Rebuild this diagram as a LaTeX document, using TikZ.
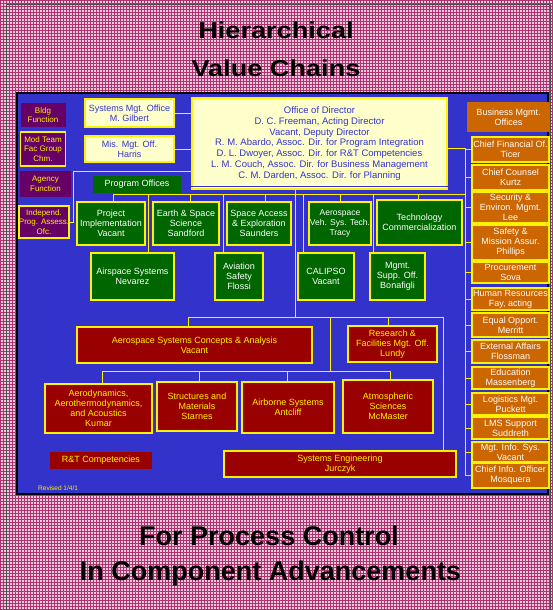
\documentclass[tikz,border=0pt]{standalone}
\usepackage{fontspec}
\setmainfont{Liberation Sans}
\usepackage{graphicx}
\usepackage{tikz}

\definecolor{panelblue}{RGB}{51,51,204}
\definecolor{progreen}{RGB}{0,102,0}
\definecolor{compred}{RGB}{153,0,0}
\definecolor{busorange}{RGB}{204,102,0}
\definecolor{agpurple}{RGB}{102,0,102}
\definecolor{paper}{RGB}{255,255,204}
\definecolor{pinkbg}{RGB}{238,204,222}
\definecolor{pinkdot}{RGB}{176,48,112}

\tikzset{
  box/.style={draw=yellow, line width=1.3pt, inner sep=0pt, align=center,
    font=\fontsize{9}{10}\selectfont},
  greenbox/.style={box, fill=progreen, text=white},
  redbox/.style={box, fill=compred, text=yellow},
  orangebox/.style={box, fill=busorange, text=white, minimum width=77},
  purplebox/.style={box, fill=agpurple, text=yellow, minimum width=45,
    font=\fontsize{8}{9.5}\selectfont},
  paperbox/.style={box, fill=paper, text=panelblue},
  link/.style={yellow, line width=1pt},
  headline/.style={anchor=base, font=\fontsize{27}{27}\selectfont\bfseries}
}

\begin{document}
\begin{tikzpicture}[x=1pt,y=-1pt]

  \useasboundingbox (0,0) rectangle (552,610);

  % background
  \fill[pinkbg] (0,0) rectangle (552,610);
  \draw[pinkdot, line width=0.6pt, xstep=3pt, ystep=3pt] (0,0) grid (552,610);
  \draw[gray!60!black, line width=0.8pt] (6,614) -- (6,4) -- (550,4) -- (550,614);

  % titles
  \node[headline, font=\fontsize{23}{23}\selectfont\bfseries] (title1) at (276,39)
    {\scalebox{1.18}[1]{Hierarchical}};
  \node[headline, font=\fontsize{23}{23}\selectfont\bfseries] (title2) at (276,77)
    {\scalebox{1.18}[1]{Value Chains}};
  \node[headline] (sub1) at (269,545) {For Process Control};
  \node[headline] (sub2) at (270.5,580) {In Component Advancements};

  % panel
  \draw[black, line width=1.5pt, fill=panelblue] (17,93) rectangle (548,494);

  % director and staff
  \node[paperbox, minimum width=255, minimum height=91,
    font=\fontsize{9.5}{10.8}\selectfont] (dir) at (319.5,143.5)
    {Office of Director\\
     D. C. Freeman, Acting Director\\
     Vacant, Deputy Director\\
     R. M. Abardo, Assoc. Dir. for Program Integration\\
     D. L. Dwoyer, Assoc. Dir. for R\&T Competencies\\
     L. M. Couch, Assoc. Dir. for Business Management\\
     C. M. Darden, Assoc. Dir. for Planning};
  \draw[panelblue, line width=0.8pt] ([yshift=3pt]dir.south west) -- ([yshift=3pt]dir.south east);
  \node[paperbox, minimum width=89, minimum height=28] (sysmgt) at (129.5,113)
    {Systems Mgt. Office\\M. Gilbert};
  \node[paperbox, minimum width=89, minimum height=26] (misoff) at (129.5,149)
    {Mis. Mgt. Off.\\Harris};

  % left column
  \node[purplebox, draw=none, minimum height=24] (bldg) at (43,115) {Bldg\\Function};
  \node[purplebox, minimum height=34] (modteam) at (43,149) {Mod Team\\Fac Group\\Chm.};
  \node[purplebox, draw=none, minimum width=51, minimum height=26] (agency) at (45.5,184)
    {Agency\\Function};
  \node[purplebox, minimum height=32] (indep) at (44,222) {Independ.\\Prog. Assess.\\Ofc.};

  % program offices
  \node[greenbox, draw=none, minimum width=88, minimum height=17] (progoff) at (137,184.5)
    {Program Offices};
  \node[greenbox, minimum width=68, minimum height=43] (proj) at (111,223.5)
    {Project\\Implementation\\Vacant};
  \node[greenbox, minimum width=66, minimum height=43] (earth) at (186,223.5)
    {Earth \& Space\\Science\\Sandford};
  \node[greenbox, minimum width=64, minimum height=43] (space) at (259,223.5)
    {Space Access\\\& Exploration\\Saunders};
  \node[greenbox, minimum width=62, minimum height=43,
    font=\fontsize{8.5}{10}\selectfont] (avst) at (340,223.5)
    {Aerospace\\Veh. Sys. Tech.\\Tracy};
  \node[greenbox, minimum width=85, minimum height=45] (techcom) at (419.5,222.5)
    {Technology\\Commercialization};
  \node[greenbox, minimum width=83, minimum height=47] (airsys) at (132.5,276.5)
    {Airspace Systems\\Nevarez};
  \node[greenbox, minimum width=48, minimum height=47] (avsafe) at (239,276.5)
    {Aviation\\Safety\\Flossi};
  \node[greenbox, minimum width=56, minimum height=47] (calipso) at (326,276.5)
    {CALIPSO\\Vacant};
  \node[greenbox, minimum width=55, minimum height=47] (mso) at (397.5,276.5)
    {Mgmt.\\Supp. Off.\\Bonafigli};

  % competencies
  \node[redbox, minimum width=235, minimum height=36] (ascan) at (194.5,345)
    {Aerospace Systems Concepts \& Analysis\\Vacant};
  \node[redbox, minimum width=89, minimum height=36] (rfmo) at (392.5,344)
    {Research \&\\Facilities Mgt. Off.\\Lundy};
  \node[redbox, minimum width=107, minimum height=49] (aero) at (98.5,408.5)
    {Aerodynamics,\\Aerothermodynamics,\\and Acoustics\\Kumar};
  \node[redbox, minimum width=80, minimum height=49] (struct) at (197,406.5)
    {Structures and\\Materials\\Starnes};
  \node[redbox, minimum width=92, minimum height=51] (airborne) at (288,407.5)
    {Airborne Systems\\Antcliff};
  \node[redbox, minimum width=90, minimum height=53] (atmos) at (388,406.5)
    {Atmospheric\\Sciences\\McMaster};
  \node[redbox, minimum width=232, minimum height=26] (syseng) at (340,464)
    {Systems Engineering\\Jurczyk};
  \node[redbox, draw=none, minimum width=102, minimum height=17] (rtcomp) at (101,460.5)
    {R\&T Competencies};
  \node[anchor=west, text=yellow, inner sep=0pt, font=\fontsize{6.5}{6.5}\selectfont] (rev)
    at (38,488) {Revised 1/4/1};

  % business offices
  \node[orangebox, draw=none, minimum width=83, minimum height=30] (bmo) at (508.5,117)
    {Business Mgmt.\\Offices};
  \foreach \n/\y/\h/\txt in {
      cfo/149.5/25/{Chief Financial Of.\\Ticer},
      counsel/177.5/25/{Chief Counsel\\Kurtz},
      security/207.5/31/{Security \&\\Environ. Mgmt.\\Lee},
      safety/242.5/35/{Safety \&\\Mission Assur.\\Phillips},
      procure/272.5/21/{Procurement\\Sova},
      human/299/22/{Human Resources\\Fay, acting},
      equal/325/24/{Equal Opport.\\Merritt},
      external/351.5/23/{External Affairs\\Flossman},
      educ/378/22/{Education\\Massenberg},
      logist/404/22/{Logistics Mgt.\\Puckett},
      lms/428/22/{LMS Support\\Suddreth},
      mis/452/20/{Mgt. Info. Sys.\\Vacant},
      cio/475.5/25/{Chief Info. Officer\\Mosquera}}
    \node[orangebox, minimum height=\h] (\n) at (510.5,\y) {\txt};

  % connectors
  \coordinate (rtop) at (465,148);
  \coordinate (rbot) at (465,475.5);
  \coordinate (gbusl) at (113,194);
  \coordinate (gbusr) at (465,194);
  \coordinate (cbusl) at (188,317);
  \coordinate (cbusr) at (443,317);
  \coordinate (lbusl) at (102,371);
  \coordinate (lbusr) at (390,371);
  \coordinate (ibend) at (73,171);

  \draw[link] (sysmgt.east) -- (sysmgt.east -| dir.west);
  \draw[link] (misoff.east) -- (misoff.east -| dir.west);
  \draw[link] (indep.east) -| (ibend) -- (ibend -| dir.west);
  \draw[link] (rtop -| dir.east) -- (rtop) -- (rbot);
  \foreach \n in {cfo,counsel,security,safety,procure,human,equal,
                  external,educ,logist,lms,mis,cio}
    \draw[link] (\n.west) -- (\n.west -| rtop);

  \draw[link] (dir.south -| 295,0) -- (cbusl -| 295,0);
  \draw[link] (gbusl) -- (gbusr);
  \foreach \n/\x in {proj/113, earth/190, space/265, avst/340, techcom/418,
                     airsys/148, avsafe/223, calipso/303, mso/373}
    \draw[link] (gbusl -| \x,0) -- (\n.north -| \x,0);

  \draw[link] (cbusl) -- (cbusr);
  \foreach \n/\x in {ascan/188, rfmo/388, syseng/443}
    \draw[link] (cbusl -| \x,0) -- (\n.north -| \x,0);
  \draw[link] (cbusl -| 330,0) -- (lbusl -| 330,0);
  \draw[link] (lbusl) -- (lbusr);
  \foreach \n/\x in {aero/102, struct/199, airborne/287, atmos/390}
    \draw[link] (lbusl -| \x,0) -- (\n.north -| \x,0);

\end{tikzpicture}
\end{document}
